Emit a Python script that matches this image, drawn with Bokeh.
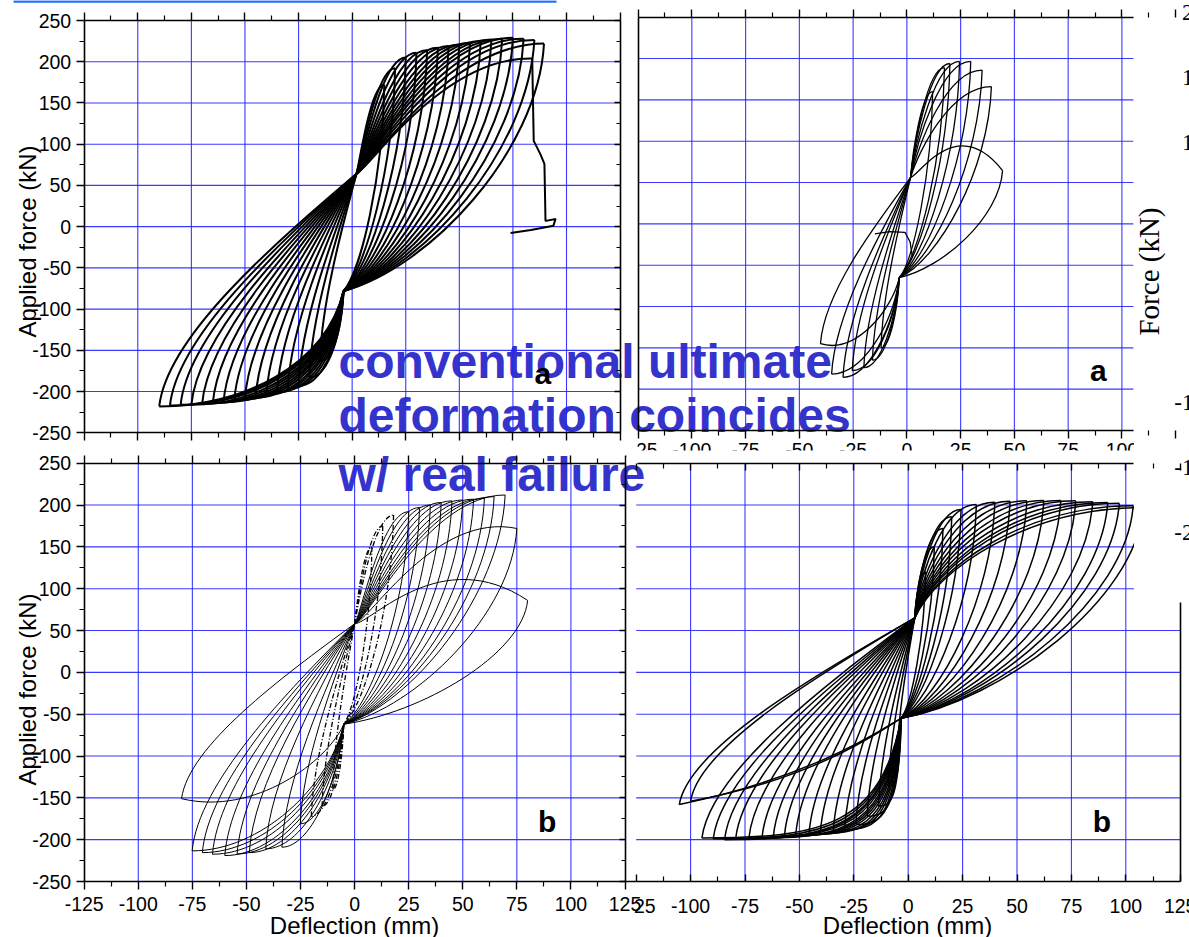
import math
from bokeh.plotting import figure
from bokeh.models import Range1d, LinearAxis, FixedTicker
from bokeh.core.properties import value
from bokeh.embed import file_html
from bokeh.resources import INLINE

W, H = 1189, 937

# ---------------- axis values ----------------
force_ticks = [-250, -200, -150, -100, -50, 0, 50, 100, 150, 200, 250]
force_minor = [-225, -175, -125, -75, -25, 25, 75, 125, 175, 225]
force_grid = [-200, -150, -100, -50, 0, 50, 100, 150, 200]
defl_ticks = [-125, -100, -75, -50, -25, 0, 25, 50, 75, 100, 125]
defl_minor = [-112.5, -87.5, -62.5, -37.5, -12.5, 12.5, 37.5, 62.5, 87.5, 112.5]
defl_grid = [-100, -75, -50, -25, 0, 25, 50, 75, 100]
strip_ticks = [200, 150, 100, -100, -150, -200]

# ---------------- panel a, top-left (cycle peaks) ----------------
a_pinch_up, a_pinch_lo = (2, 64), (-4, -78)
a_pos_d = [15, 20, 25, 30, 35, 40, 45, 50, 55, 60, 65, 70, 75, 80, 85, 89.5]
a_pos_f = [172, 192, 205, 211, 214, 217, 219, 221, 223, 225, 227, 228, 229, 228, 226.5, 222]
a_pos_top = [172, 192, 205, 211, 214, 217, 219, 221, 223, 225, 227, 228, 229, 228, 226.5, 222]
a_neg_d = [-15, -20, -25, -30, -35, -40, -45, -50, -55, -60, -65, -70, -75, -80, -85, -90]
a_neg_f = [-163, -183, -193, -197, -201, -204, -207, -209, -211, -213, -214, -215, -216, -216, -217, -218]
a_neg_bot = [-163, -183, -193, -197, -201, -204, -207, -209, -211, -213, -214, -215, -216, -216, -217, -218]
a_fail_top = 206
a_fail_x = [84, 84.7, 87.8, 89.7, 90.2, 91, 94.9, 93.9, 83.4, 73.9]
a_fail_y = [204, 104, 88, 76, 7.3, 7.3, 9.3, 1.2, -4, -7.7]

# ---------------- panel a, top-right ----------------
c_pinch_up, c_pinch_lo = (1.7, 56), (-3.5, -65)
c_pos_d = [12, 17.5, 20, 24.5, 29.7, 35, 39.3, 44.5]
c_pos_f = [160, 189, 194, 196.5, 196.5, 186, 166, 64.5]
c_pos_top = [160, 189, 194, 196.5, 196.5, 186, 166, 135]
c_neg_d = [-12, -16, -20, -25.4, -29.7, -35, -40.2]
c_neg_f = [-150, -165, -174, -177.6, -185.7, -181.7, -145]
c_neg_bot = [-150, -165, -174, -177.6, -185.7, -181.7, -158]
c_end_x = [2.6, 1.5, -0.9, -8, -14.9]
c_end_y = [-40.4, -22, -10.2, -9.5, -12]

# ---------------- panel b, bottom-left ----------------
b_pinch_up, b_pinch_lo = (0, 58), (-5, -62)
b_pos_d = [25, 30, 35, 40, 45, 50, 55, 60, 64.5, 69.6, 75, 80]
b_pos_f = [192, 197, 200, 203, 205, 206, 207, 208, 210, 212, 172, 86]
b_pos_top = [192, 197, 200, 203, 205, 206, 207, 208, 210, 212, 192, 155]
b_neg_d = [-25.1, -33.6, -41.1, -48.7, -54.3, -60, -65.7, -70.4, -75.1, -80]
b_neg_f = [-181, -209, -211, -215.5, -217, -219, -217.4, -215.5, -213.4, -151]
b_neg_bot = [-181, -209, -211, -215.5, -217, -219, -217.4, -215.5, -213.4, -172]
b0_pos_d = [8, 13, 18]
b0_pos_f = [150, 175, 188]
b0_neg_d = [-10, -15, -20]
b0_neg_f = [-140, -160, -172]

# ---------------- panel b, bottom-right ----------------
d_pinch_up, d_pinch_lo = (3, 65), (-3.3, -55)
d_pos_d = [8, 12, 16, 20, 24.3, 31.3, 39.8, 46.8, 54.5, 62.3, 70.1, 77, 84.8, 91.7, 97, 103.4, 108]
d_pos_f = [120, 150, 172, 186, 194.6, 200.5, 203.3, 204.5, 205, 205.5, 205.5, 205, 204, 203, 202, 199, 197]
d_neg_d = [-5, -9, -13.6, -18.8, -24, -29.2, -34.4, -40.4, -45.6, -51.7, -56.9, -62, -67.2, -73.2,
           -79.3, -84.4, -89.6, -94.8, -100, -105.2]
d_neg_f = [-100, -135, -160, -172, -182, -188, -190, -193, -194, -195, -196, -197, -198, -198,
           -199, -200, -199, -198, -154, -158]
d_neg_bot = [-100, -135, -160, -172, -182, -188, -190, -193, -194, -195, -196, -197, -198, -198,
             -199, -200, -199, -198, -127, -125]
d_neg_soft = [False] * 18 + [True, True]

# ---------------- figure: one canvas, one coordinate system per panel ----------------
p = figure(width=W, height=H, x_range=Range1d(0, W), y_range=Range1d(0, H),
           x_axis_type=None, y_axis_type=None, toolbar_location=None,
           output_backend="svg", min_border=0)
p.outline_line_color = None
p.background_fill_color = "white"
p.border_fill_color = "white"
p.extra_y_ranges["pix"] = Range1d(H, 0)


def panel_ranges(name, xd, xp, yd, yp):
    (d0, d1), (px0, px1) = xd, xp
    kx = (d1 - d0) / (px1 - px0)
    p.extra_x_ranges[name] = Range1d(d0 - px0 * kx, d0 + (W - px0) * kx)
    (v0, v1), (py0, py1) = yd, yp
    b0, b1 = H - py0, H - py1
    ky = (v1 - v0) / (b1 - b0)
    p.extra_y_ranges[name] = Range1d(v0 - b0 * ky, v0 + (H - b0) * ky)


panel_ranges("A", (-125, 125), (83.7, 619.6), (-250, 250), (432.3, 20))
panel_ranges("C", (-125, 100), (637.6, 1121.4), (-250, 250), (430, 16.7))
panel_ranges("B", (-125, 125), (83.7, 624.5), (-250, 250), (881, 462.7))
panel_ranges("D", (-125, 125), (635.7, 1179.7), (-250, 250), (881, 462.7))
panel_ranges("S", (-125, 100), (637.6, 1121.4), (0, 200), (272, 12))

SANS = value("Liberation Sans")
SERIF = value("Liberation Serif")
GRID = "#2424ff"


def on(rn):
    return dict(x_range_name=rn, y_range_name=rn)


def hysteresis(pos_d, pos_f, pos_top, neg_d, neg_f, neg_bot, neg_soft, up, lo, kp, kn, an):
    cx, cy = up
    gx, gy = lo
    s = {k: [] for k in ("x0", "y0", "x1", "y1", "cx0", "cy0", "cx1", "cy1")}

    def add(a, c0, c1, b):
        s["x0"].append(a[0]); s["y0"].append(a[1])
        s["cx0"].append(c0[0]); s["cy0"].append(c0[1])
        s["cx1"].append(c1[0]); s["cy1"].append(c1[1])
        s["x1"].append(b[0]); s["y1"].append(b[1])

    for d, f, t in zip(pos_d, pos_f, pos_top):
        dx, dy = d - cx, f - cy
        add((cx, cy), (cx + 0.1 * dx, cy + kp * dy), (d - 0.5 * dx, t), (d, f))
        dx, dy = d - gx, f - gy
        add((d, f), (d - 0.03 * dx, f - 0.44 * dy), (gx + 0.42 * dx, gy + 0.09 * dy), (gx, gy))
    for d, f, b, soft in zip(neg_d, neg_f, neg_bot, neg_soft):
        dx, dy = gx - d, gy - f
        k = 0.15 if soft else kn
        add((gx, gy), (gx - 0.1 * dx, gy - k * dy), (d + an * dx, b), (d, f))
        dx, dy = cx - d, cy - f
        add((d, f), (d + 0.04 * dx, f + 0.30 * dy), (cx - 0.43 * dx, cy - 0.31 * dy), (cx, cy))
    return s


def draw_loops(rn, s, width, dash="solid"):
    p.bezier(x0=s["x0"], y0=s["y0"], x1=s["x1"], y1=s["y1"],
             cx0=s["cx0"], cy0=s["cy0"], cx1=s["cx1"], cy1=s["cy1"],
             line_color="black", line_width=width, line_dash=dash, **on(rn))


def draw_grid(rn, xlo, xhi, ylo, yhi):
    n, m = len(defl_grid), len(force_grid)
    p.segment(x0=defl_grid, y0=[ylo] * n, x1=defl_grid, y1=[yhi] * n,
              line_color=GRID, line_width=1.1, line_alpha=0.9, **on(rn))
    p.segment(x0=[xlo] * m, y0=force_grid, x1=[xhi] * m, y1=force_grid,
              line_color=GRID, line_width=1.1, line_alpha=0.9, **on(rn))


def axis(side, rn, loc, bounds, ticks, minor, t_in=0, t_out=0, m_in=0, m_out=0,
         labels=False, standoff=5):
    ax = LinearAxis(fixed_location=loc, bounds=bounds,
                    ticker=FixedTicker(ticks=ticks, minor_ticks=minor),
                    major_tick_in=t_in, major_tick_out=t_out,
                    minor_tick_in=m_in, minor_tick_out=m_out,
                    axis_line_width=1.6, axis_line_color="black",
                    major_tick_line_width=1.4, minor_tick_line_width=1.2,
                    major_label_standoff=standoff,
                    major_label_text_font="Liberation Sans",
                    major_label_text_font_size="19.5px",
                    major_label_text_color="black", **on(rn))
    if labels:
        ax.major_label_overrides = {t: str(t) for t in ticks}
    else:
        ax.major_label_overrides = {t: "" for t in ticks}
    p.add_layout(ax, side)


def tag(rn, letter):
    p.text(x=[89], y=[-178], text=[letter], text_font=SANS, text_font_style="bold",
           text_font_size=value("30px"), text_align="center", text_baseline="middle",
           text_color="black", **on(rn))


# ---------------- overlay text (under the grids, as in the slide) ----------------
p.line(x=[13, 556], y=[1, 1], line_color="#1f6fff", line_width=2.5, y_range_name="pix")
p.text(x=[338, 338, 338], y=[360.5, 415, 473.5],
       text=["conventional ultimate", "deformation coincides", "w/ real failure"],
       text_font=SANS, text_font_style="bold", text_font_size=value("48px"),
       text_color="#3434cc", text_align="left", text_baseline="middle",
       y_range_name="pix")

# ---------------- panel A (top-left) ----------------
draw_grid("A", -125, 125, -250, 250)
draw_loops("A", hysteresis(a_pos_d, a_pos_f, a_pos_top, a_neg_d, a_neg_f, a_neg_bot,
                           [False] * len(a_neg_d), a_pinch_up, a_pinch_lo, 0.10, 0.65, 0.45), 2.0)
p.bezier(x0=[a_pinch_up[0]], y0=[a_pinch_up[1]], x1=[a_fail_x[0]], y1=[a_fail_y[0]],
         cx0=[a_pinch_up[0] + 0.1 * (a_fail_x[0] - a_pinch_up[0])],
         cy0=[a_pinch_up[1] + 0.1 * (a_fail_y[0] - a_pinch_up[1])],
         cx1=[a_fail_x[0] - 0.5 * (a_fail_x[0] - a_pinch_up[0])], cy1=[a_fail_top],
         line_color="black", line_width=2.0, **on("A"))
p.line(x=a_fail_x, y=a_fail_y, line_color="black", line_width=2.0, **on("A"))
tag("A", "a")
axis("left", "A", -125, (-250, 250), force_ticks, force_minor, t_out=8, m_out=5, labels=True)
axis("right", "A", 125, (-250, 250), force_ticks, force_minor, t_in=6, m_in=4)
axis("above", "A", 250, (-125, 125), defl_ticks, defl_minor, t_out=8, m_out=5)
axis("below", "A", -250, (-125, 125), defl_ticks, defl_minor, t_out=8, m_out=5)

# ---------------- panel C (top-right) ----------------
draw_grid("C", -125, 105.3, -250, 250)
draw_loops("C", hysteresis(c_pos_d, c_pos_f, c_pos_top, c_neg_d, c_neg_f, c_neg_bot,
                           [False] * len(c_neg_d), c_pinch_up, c_pinch_lo, 0.30, 0.5, 0.45), 1.3)
p.line(x=c_end_x, y=c_end_y, line_color="black", line_width=1.3, **on("C"))
tag("C", "a")
p.text(x=defl_ticks[:-1], y=[-250] * (len(defl_ticks) - 1), text=[str(t) for t in defl_ticks[:-1]],
       text_font=SANS, text_font_size=value("19.5px"), text_align="center",
       text_baseline="middle", y_offset=19, text_color="black", **on("C"))
p.quad(left=[600, 626], right=[637, W], top=[436, 450], bottom=[452, 461],
       fill_color="white", line_color=None, y_range_name="pix")
axis("above", "C", 250, (-125, 105.3), defl_ticks, defl_minor, t_out=8, m_out=5)
axis("below", "C", -250, (-125, 105.3), defl_ticks, defl_minor, t_out=8, m_out=5)
axis("left", "C", -125, (-250, 250), force_ticks, [])

# ---------------- panel B (bottom-left) ----------------
draw_grid("B", -125, 125, -250, 250)
draw_loops("B", hysteresis(b_pos_d, b_pos_f, b_pos_top, b_neg_d, b_neg_f, b_neg_bot,
                           [False] * len(b_neg_d), b_pinch_up, b_pinch_lo, 0.05, 0.5, 0.45), 1.0)
draw_loops("B", hysteresis(b0_pos_d, b0_pos_f, b0_pos_f, b0_neg_d, b0_neg_f, b0_neg_f,
                           [False] * len(b0_neg_d), b_pinch_up, b_pinch_lo, 0.2, 0.5, 0.45),
           1.3, dash="5 2 1 2")
tag("B", "b")
axis("left", "B", -125, (-250, 250), force_ticks, force_minor, t_out=8, m_out=5, labels=True)
axis("right", "B", 125, (-250, 250), force_ticks, force_minor, t_in=6, m_in=4)
axis("above", "B", 250, (-125, 125), defl_ticks, defl_minor, t_out=8, m_out=5)
axis("below", "B", -250, (-125, 125), defl_ticks, defl_minor, t_out=8, m_out=5,
     labels=True, standoff=7)

# ---------------- panel D (bottom-right) ----------------
draw_grid("D", -125, 125, -250, 250)
draw_loops("D", hysteresis(d_pos_d, d_pos_f, d_pos_f, d_neg_d, d_neg_f, d_neg_bot,
                           d_neg_soft, d_pinch_up, d_pinch_lo, 0.45, 0.9, 0.6), 1.5)
tag("D", "b")
p.text(x=defl_ticks, y=[-250] * len(defl_ticks), text=[str(t) for t in defl_ticks],
       text_font=SANS, text_font_size=value("19.5px"), text_align="center",
       text_baseline="middle", y_offset=24, text_color="black", **on("D"))
p.quad(left=[604], right=[633.5], top=[893], bottom=[918],
       fill_color="white", line_color=None, y_range_name="pix")
axis("below", "D", -250, (-130, 125), defl_ticks, defl_minor, t_in=7, m_in=5)
axis("above", "D", 250, (-124.5, 103.4), defl_ticks, defl_minor, t_in=7, m_in=5)
axis("right", "D", 125, (-250, 82.9), force_ticks, [])

# ---------------- pasted strip on the right ----------------
p.quad(left=[1133.5], right=[W + 5], top=[-5], bottom=[601.7],
       fill_color="white", line_color=None, y_range_name="pix")
p.text(x=[1148], y=[271], text=["Force (kN)"], angle=math.pi / 2, text_font=SERIF,
       text_font_size=value("29px"), text_align="center", text_baseline="middle",
       text_color="black", y_range_name="pix")
p.text(x=[1216] * len(strip_ticks), y=strip_ticks, text=[str(t) for t in strip_ticks],
       text_font=SERIF, text_font_size=value("23px"), text_align="right",
       text_baseline="middle", text_color="black", y_range_name="S")

# ---------------- axis titles ----------------
p.text(x=[27, 27], y=[241, 689], text=["Applied force (kN)", "Applied force (kN)"],
       angle=math.pi / 2, text_font=SANS, text_font_size=value("24px"),
       text_align="center", text_baseline="middle", text_color="black", y_range_name="pix")
p.text(x=[354, 907], y=[924.5, 924.5], text=["Deflection (mm)", "Deflection (mm)"],
       text_font=SANS, text_font_size=value("24px"), text_align="center",
       text_baseline="middle", text_color="black", y_range_name="pix")

open("out.html", "w").write(file_html(p, INLINE))
